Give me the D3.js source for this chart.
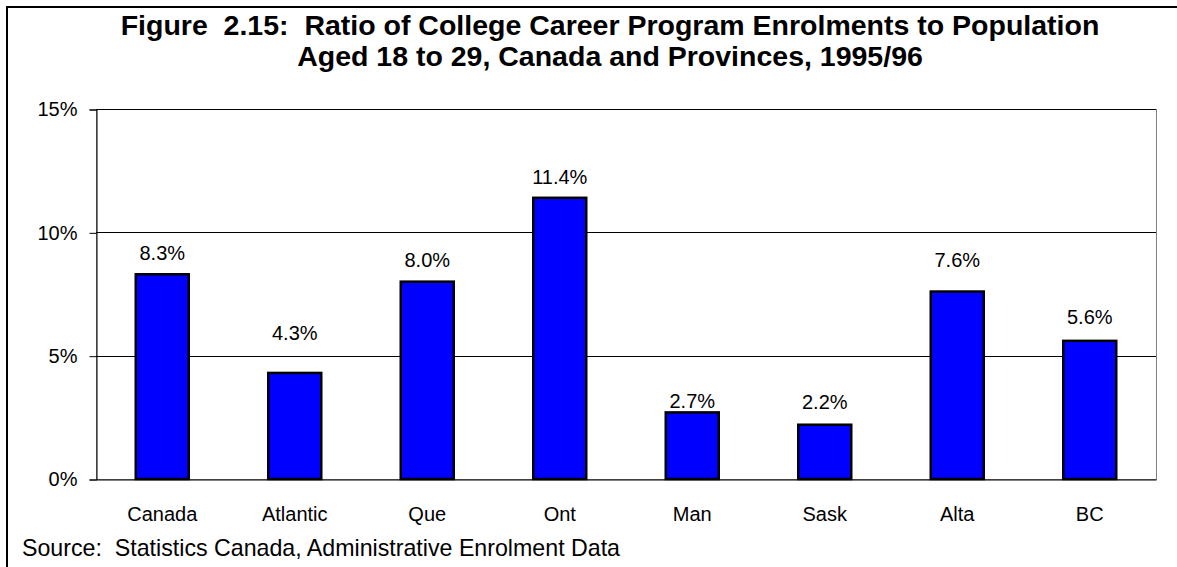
<!DOCTYPE html>
<html>
<head>
<meta charset="utf-8">
<script src="https://cdn.jsdelivr.net/npm/d3@7"></script>
<style>
  html, body { margin: 0; padding: 0; background: #fff; }
  svg { display: block; font-family: Arial, "Liberation Sans", sans-serif; }
  svg text { white-space: pre; }
</style>
</head>
<body>
<svg id="chart" width="1177" height="567"></svg>
<script>
// Ratio of college career program enrolments to population aged 18-29, 1995/96
const regions = ["Canada", "Atlantic", "Que", "Ont", "Man", "Sask", "Alta", "BC"];
const ratios = [8.3, 4.3, 8.0, 11.4, 2.7, 2.2, 7.6, 5.6];
const yTicks = [0, 5, 10, 15];
const titleLines = [
  "Figure  2.15:  Ratio of College Career Program Enrolments to Population",
  "Aged 18 to 29, Canada and Provinces, 1995/96"
];
const sourceNote = "Source:  Statistics Canada, Administrative Enrolment Data";

const W = 1177, H = 567;
const margin = { top: 109, right: 21, bottom: 88, left: 96 };
const svg = d3.select("#chart");

// outer frame (runs off the right and bottom edges)
svg.append("rect")
  .attr("x", 7).attr("y", 7)
  .attr("width", W + 10).attr("height", H + 10)
  .attr("fill", "none").attr("stroke", "#000").attr("stroke-width", 2);

const x = d3.scaleBand()
  .domain(regions)
  .range([margin.left, W - margin.right])
  .paddingInner(0.6)
  .paddingOuter(0.3);

const y = d3.scaleLinear()
  .domain([0, 15])
  .range([H - margin.bottom, margin.top]);

const snap = v => Math.round(v) + 0.5;

// plot area border
svg.append("rect")
  .attr("x", snap(margin.left)).attr("y", snap(y(15)))
  .attr("width", Math.round(W - margin.right) - Math.round(margin.left))
  .attr("height", Math.round(y(0)) - Math.round(y(15)))
  .attr("fill", "none").attr("stroke", "#808080").attr("stroke-width", 1);

// horizontal gridlines
svg.append("g")
  .selectAll("line")
  .data(yTicks.filter(t => t > 0))
  .join("line")
  .attr("x1", margin.left).attr("x2", W - margin.right)
  .attr("y1", d => snap(y(d))).attr("y2", d => snap(y(d)))
  .attr("stroke", "#000").attr("stroke-width", 1);

// y axis
const yAxis = d3.axisLeft(y)
  .tickValues(yTicks)
  .tickSize(7)
  .tickPadding(12)
  .tickFormat(d => d + "%");
const gy = svg.append("g")
  .attr("transform", `translate(${snap(margin.left)},0.5)`)
  .call(yAxis);
gy.select(".domain").attr("stroke", "#000");
gy.selectAll(".tick line").attr("stroke", "#000");
gy.selectAll(".tick text")
  .attr("font-size", 20).attr("fill", "#000")
  .attr("font-family", "Arial, 'Liberation Sans', sans-serif");

// bars
svg.append("g")
  .selectAll("rect")
  .data(regions)
  .join("rect")
  .attr("x", d => x(d))
  .attr("y", (d, i) => y(ratios[i]))
  .attr("width", x.bandwidth())
  .attr("height", (d, i) => y(0) - y(ratios[i]))
  .attr("fill", "#0000ff")
  .attr("stroke", "#000")
  .attr("stroke-width", 2.5);

// x axis baseline and category labels
const xAxis = d3.axisBottom(x).tickSize(0).tickPadding(27);
const gx = svg.append("g")
  .attr("transform", `translate(0,${snap(y(0))})`)
  .call(xAxis);
gx.select(".domain").attr("stroke", "#000");
gx.selectAll(".tick text")
  .attr("font-size", 20).attr("fill", "#000")
  .attr("font-family", "Arial, 'Liberation Sans', sans-serif");

// value labels, each lifted by its own gap above the bar top
const labelGap = [14.5, 32.5, 15, 14, 4.5, 15.5, 24.5, 16.5];
svg.append("g")
  .selectAll("text")
  .data(regions)
  .join("text")
  .attr("x", d => x(d) + x.bandwidth() / 2)
  .attr("y", (d, i) => y(ratios[i]) - labelGap[i])
  .attr("text-anchor", "middle")
  .attr("font-size", 20)
  .text((d, i) => ratios[i].toFixed(1) + "%");

// title
svg.append("g")
  .selectAll("text")
  .data(titleLines)
  .join("text")
  .attr("x", 610)
  .attr("y", (d, i) => 35 + i * 31)
  .attr("text-anchor", "middle")
  .attr("font-size", 28.5)
  .attr("font-weight", "bold")
  .text(d => d);

// source note
svg.append("text")
  .attr("x", 22)
  .attr("y", 556)
  .attr("font-size", 23.2)
  .text(sourceNote);
</script>
</body>
</html>
